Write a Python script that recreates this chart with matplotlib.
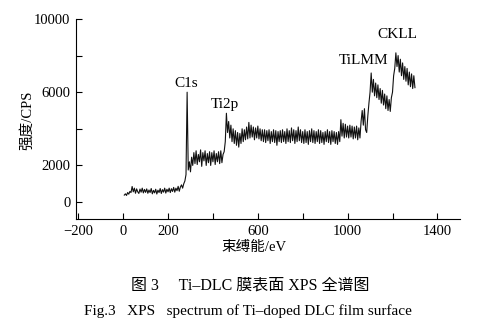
import numpy as np
import matplotlib
matplotlib.use('Agg')
import matplotlib.pyplot as plt

plt.rcParams['font.family'] = ['Liberation Serif', 'Noto Sans CJK SC']

# binding energy grid (eV), 5 eV steps
energy = np.arange(5, 1301, 5)

# intensity (CPS), one row per 100 eV
intensity = [
    380, 450, 360, 520, 430, 580, 520, 850, 560, 760, 480, 720, 560, 470, 710, 540, 760, 500, 690, 530,
    720, 480, 660, 520, 740, 450, 640, 500, 700, 440, 650, 520, 740, 470, 680, 540, 760, 490, 700, 560,
    760, 520, 730, 580, 800, 540, 760, 620, 860, 590, 820, 940, 760, 1000, 1150, 1500, 6000, 1750, 2200, 1650,
    2450, 2000, 2700, 2100, 2800, 2050, 2600, 2200, 2850, 1950, 2700, 2250, 2800, 2000, 2650, 2150, 2750, 2000, 2700, 2200,
    2800, 2050, 2650, 2200, 2750, 2100, 2800, 2150, 2600, 2750, 3300, 4850, 3800, 4400, 3500, 4200, 3300, 4000, 3200, 3900,
    3100, 3800, 3000, 3750, 3200, 4000, 3300, 3950, 3400, 4100, 3450, 4350, 3500, 4200, 3550, 4100, 3400, 4050, 3500, 4150,
    3450, 4000, 3350, 3950, 3300, 3950, 3250, 3900, 3350, 3950, 3200, 3850, 3300, 3950, 3250, 3900, 3100, 3850, 3300, 3900,
    3250, 3950, 3300, 3850, 3200, 4000, 3300, 3900, 3250, 4050, 3350, 3950, 3200, 3900, 3300, 4100, 3350, 3950, 3250, 3850,
    3200, 3950, 3250, 3850, 3150, 3900, 3300, 4000, 3250, 3900, 3200, 3850, 3300, 3950, 3200, 3900, 3250, 3800, 3150, 3850,
    3300, 3950, 3250, 3850, 3150, 3900, 3300, 3850, 3200, 3800, 3150, 3850, 3300, 4500, 3600, 4300, 3500, 4250, 3550, 4150,
    3500, 4200, 3550, 4150, 3450, 4100, 3500, 4150, 3400, 4050, 3500, 4400, 5000, 4200, 5100, 3950, 3800, 4700, 5400, 6000,
    7050, 6000, 6700, 5800, 6500, 5700, 6400, 5600, 6200, 5400, 6100, 5300, 5900, 5100, 5800, 5000, 5600, 4950, 5700, 6000,
    6900, 7300, 8150, 7400, 8000, 7100, 7800, 6900, 7600, 6700, 7400, 6600, 7300, 6400, 7100, 6300, 7000, 6200, 6900, 6250,
]

peak_labels = ['C1s', 'Ti2p', 'TiLMM', 'CKLL']
peak_label_x = [280, 455, 1073, 1222]
peak_label_y = [6500, 5350, 7750, 9150]

x_ticks = [-200, 0, 200, 400, 600, 800, 1000, 1200, 1400]
x_tick_labels = ['\u2212200', '0', '200', '', '600', '', '1000', '', '1400']
y_ticks = [0, 2000, 4000, 6000, 8000, 10000]
y_tick_labels = ['0', '2000', '', '6000', '', '10000']


def main() -> None:
    fig = plt.figure(figsize=(4.79, 3.27), dpi=100)
    ax = fig.add_axes([0.1587, 0.330, 0.8013, 0.612])

    ax.plot(energy, intensity, color='#111111', linewidth=0.8)

    for label, lx, ly in zip(peak_labels, peak_label_x, peak_label_y):
        ax.text(lx, ly, label, ha='center', va='center', fontsize=11)

    ax.set_xlim(-210, 1500)
    ax.set_ylim(-930, 10000)
    ax.set_xticks(x_ticks)
    ax.set_xticklabels(x_tick_labels)
    ax.set_yticks(y_ticks)
    ax.set_yticklabels(y_tick_labels)
    ax.tick_params(direction='in', length=4, width=0.8, labelsize=10.5, pad=4)

    ax.spines['top'].set_visible(False)
    ax.spines['right'].set_visible(False)

    fig.text(254 / 479, 1 - 247 / 327, '束缚能/eV', ha='center', va='center', fontsize=10.5)
    fig.text(27 / 479, 1 - 120 / 327, '强度/CPS', ha='center', va='center',
             rotation=90, fontsize=10.5)
    fig.text(250 / 479, 1 - 286 / 327, '图 3\u3000 Ti–DLC 膜表面 XPS 全谱图',
             ha='center', va='center', fontsize=11.5)
    fig.text(248 / 479, 1 - 311 / 327, 'Fig.3\u2002 XPS\u2002 spectrum of Ti–doped DLC film surface',
             ha='center', va='center', fontsize=11)

    fig.savefig('out.png', dpi=100)


if __name__ == '__main__':
    main()
